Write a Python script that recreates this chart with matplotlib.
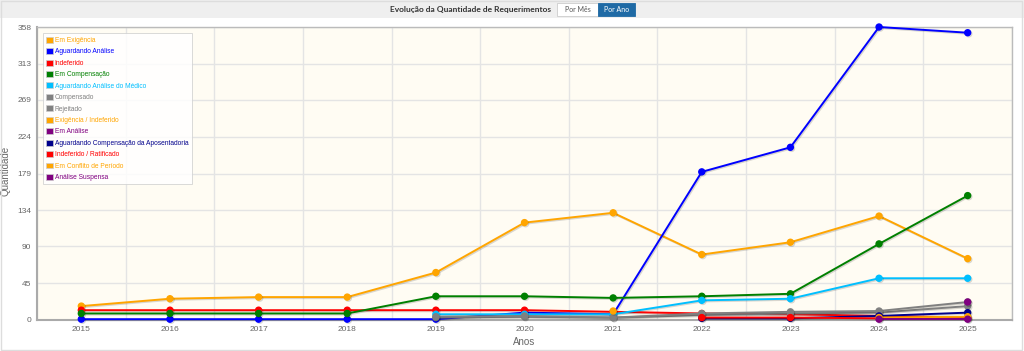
import matplotlib.pyplot as plt
import matplotlib.patches as mpatches
import matplotlib.patheffects as pe
import numpy as np

plt.rcParams["font.family"] = ["Liberation Sans", "DejaVu Sans"]

years = list(range(2015, 2026))
N = None

series_names = [
    "Em Exigência",
    "Aguardando Análise",
    "Indeferido",
    "Em Compensação",
    "Aguardando Análise do Médico",
    "Compensado",
    "Rejeitado",
    "Exigência / Indeferido",
    "Em Análise",
    "Aguardando Compensação da Aposentadoria",
    "Indeferido / Ratificado",
    "Em Conflito de Período",
    "Análise Suspensa",
]
series_colors = [
    "#ffa500", "#0000ff", "#ff0000", "#008000", "#00bfff", "#808080", "#808080",
    "#ffa500", "#800080", "#00008b", "#ff0000", "#ffa500", "#800080",
]

em_exigencia = [17, 26, 28, 28, 58, 119, 131, 80, 95, 127, 75]
aguardando_analise = [1, 1, 1, 1, 1, 9, 7, 181, 211, 358, 351]
indeferido = [12, 12, 12, 12, 12, 12, 10, 8, 7, 5, 3]
em_compensacao = [8, 8, 8, 8, 29, 29, 27, 29, 32, 93, 152]
aguardando_medico = [N, N, N, N, 7, 7, 7, 24, 26, 51, 51]
compensado = [N, N, N, N, 3, 4, 3, 6, 8, 9, 17]
rejeitado = [N, N, N, N, 4, 5, 3, 8, 10, 11, 22]
exigencia_indeferido = [N, N, N, N, N, N, 11, N, N, N, N]
em_analise = [N, N, N, N, N, N, N, N, N, N, 22]
aguardando_aposentadoria = [N, N, N, N, N, N, N, 2, 2, 5, 9]
indeferido_ratificado = [N, N, N, N, N, N, N, 3, 3, 2, 2]
em_conflito = [N, N, N, N, N, N, N, N, N, 3, 4]
analise_suspensa = [N, N, N, N, N, N, N, N, N, 1, 1]

series_values = [
    em_exigencia, aguardando_analise, indeferido, em_compensacao, aguardando_medico,
    compensado, rejeitado, exigencia_indeferido, em_analise, aguardando_aposentadoria,
    indeferido_ratificado, em_conflito, analise_suspensa,
]

y_ticks = [0, 45, 90, 134, 179, 224, 269, 313, 358]

fig = plt.figure(figsize=(10.24, 3.51), dpi=100)
fig.patch.set_facecolor("white")

# header band and outer border
fig.patches.append(mpatches.Rectangle((0, 1 - 18 / 351), 1, 18 / 351, transform=fig.transFigure,
                                      facecolor="#efefef", edgecolor="none", zorder=0))
fig.patches.append(mpatches.Rectangle((0.001, 0.003), 0.997, 0.994, transform=fig.transFigure,
                                      facecolor="none", edgecolor="#dddddd", lw=1, zorder=0))

fig.text(471 / 1024, 1 - 9.5 / 351, "Evolução da Quantidade de Requerimentos", ha="center",
         va="center", fontsize=6.0, fontweight="bold", color="#333333", family="Lato")
fig.patches.append(mpatches.Rectangle((557 / 1024, 1 - 16 / 351), 41 / 1024, 13 / 351,
                                      transform=fig.transFigure, facecolor="white",
                                      edgecolor="#cccccc", lw=0.6))
fig.patches.append(mpatches.Rectangle((598 / 1024, 1 - 16 / 351), 37 / 1024, 13 / 351,
                                      transform=fig.transFigure, facecolor="#1f6aa5",
                                      edgecolor="#1f6aa5", lw=0.6))
fig.text(577.5 / 1024, 1 - 9.5 / 351, "Por Mês", ha="center", va="center", fontsize=5,
         color="#555555", family="Lato")
fig.text(616.5 / 1024, 1 - 9.5 / 351, "Por Ano", ha="center", va="center", fontsize=5,
         color="white", family="Lato")

ax = fig.add_axes([37 / 1024, 1 - 320 / 351, 975 / 1024, 293 / 351])
ax.set_facecolor("#fffcf3")

shadow = [pe.SimpleLineShadow(offset=(0.8, -0.8), shadow_color="#000000", alpha=0.15), pe.Normal()]
for name, vals, col in zip(series_names, series_values, series_colors):
    x = [yr for yr, v in zip(years, vals) if v is not None]
    y = [v for v in vals if v is not None]
    ax.plot(x, y, color=col, lw=1.4, marker="o", ms=4.3, mec=col, mfc=col,
            path_effects=shadow, clip_on=False, zorder=3)

ax.set_xlim(2014.5, 2025.5)
ax.set_ylim(0, 358)
ax.set_xticks(years)
ax.set_xticklabels([str(y) for y in years])
ax.set_yticks(y_ticks)
ax.set_xticks(np.arange(2014.5, 2025.6, 1), minor=True)
ax.grid(False)
ax.grid(which="minor", axis="x", color="#e4e4e4", lw=1)
ax.grid(which="major", axis="y", color="#e4e4e4", lw=1)
ax.set_axisbelow(True)
ax.tick_params(which="both", length=0, labelsize=6, colors="#666666", pad=4)
ax.tick_params(axis="x", which="minor", length=0)

for s in ["left", "bottom"]:
    ax.spines[s].set_color("#aaaaaa")
    ax.spines[s].set_linewidth(1.5)
for s in ["top", "right"]:
    ax.spines[s].set_color("#bbbbbb")
    ax.spines[s].set_linewidth(1.0)

ax.set_xlabel("Anos", fontsize=7, color="#666666", labelpad=3)
ax.set_ylabel("Quantidade", fontsize=7, color="#666666")
ax.yaxis.set_label_coords(-0.027, 0.51)

handles = [mpatches.Patch(facecolor=c, edgecolor="#cccccc", lw=0.5) for c in series_colors]
leg = ax.legend(handles, series_names, loc="upper left", bbox_to_anchor=(0.006, 0.978),
                fontsize=4.75, labelcolor=series_colors, frameon=True, fancybox=False,
                handlelength=1.0, handleheight=1.0, handletextpad=0.3, labelspacing=0.64,
                borderpad=0.5, borderaxespad=0)
leg.get_frame().set_edgecolor("#cccccc")
leg.get_frame().set_linewidth(0.6)
leg.get_frame().set_alpha(0.85)

fig.savefig("out.png", dpi=100)
